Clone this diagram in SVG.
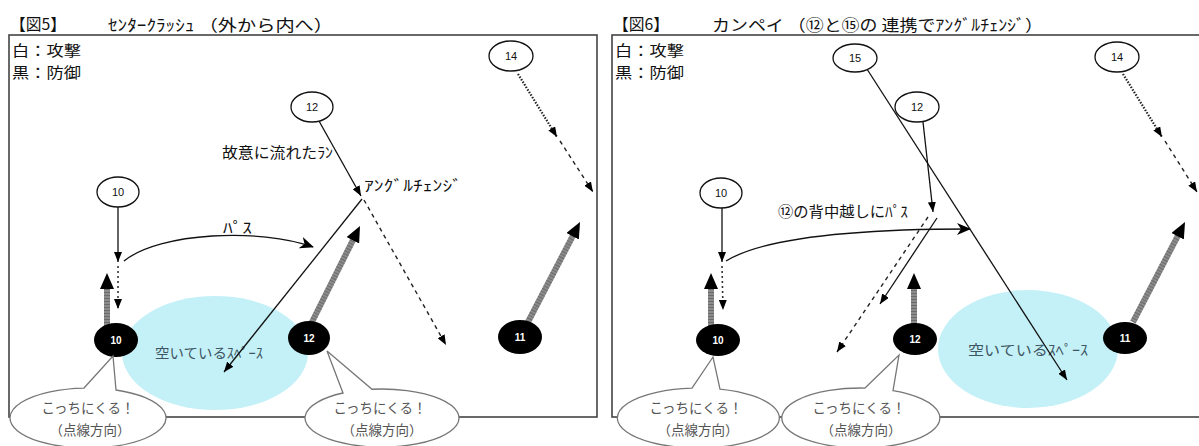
<svg xmlns="http://www.w3.org/2000/svg" width="1199" height="446" viewBox="0 0 1199 446">
<style>
text{font-family:"Noto Sans CJK JP","Noto Sans",sans-serif;fill:#111}
.num{font-family:"Liberation Sans",Arial,sans-serif;font-size:11px;text-anchor:middle}
.bnum{font-family:"Liberation Sans",Arial,sans-serif;font-size:10px;font-weight:bold;fill:#fff;text-anchor:middle}
.wp{fill:#fff;stroke:#111;stroke-width:1.3}
.bp{fill:#000}
.frame{fill:none;stroke:#444;stroke-width:1.6}
.line{fill:none;stroke:#111;stroke-width:1.3}
.dash{fill:none;stroke:#222;stroke-width:1.4;stroke-dasharray:4 4}
.dot{fill:none;stroke:#333;stroke-width:1.6;stroke-dasharray:2 3}
.hatch{fill:none;stroke:#222;stroke-width:2.2;stroke-dasharray:1.5 1.5}
.shaft{fill:none;stroke:#8c8c8c;stroke-width:6}
.shaftx{fill:none;stroke:#555;stroke-opacity:0.6;stroke-width:6;stroke-dasharray:1 2}
.space{fill:#c4f1f7}
.spacet{font-size:14px;fill:#3e5563}
.call{fill:#fff;stroke:#777;stroke-width:1.3}
.callt{font-size:13.5px;fill:#555;text-anchor:middle}
.title{font-size:16px}
.legend{font-size:15px}
.lab{font-size:15px}
</style>
<defs>
<marker id="a" markerUnits="userSpaceOnUse" markerWidth="10" markerHeight="8" refX="10" refY="4" orient="auto"><path d="M0,0 L10,4 L0,8 Z" fill="#000"/></marker>
<marker id="s" markerUnits="userSpaceOnUse" markerWidth="14" markerHeight="12" refX="13" refY="6" orient="auto"><path d="M0,0 L14,6 L0,12 L4,6 Z" fill="#000"/></marker>
<marker id="b" markerUnits="userSpaceOnUse" markerWidth="17" markerHeight="14" refX="1" refY="7" orient="auto"><path d="M0,0 L16,7 L0,14 Z" fill="#000"/></marker>
</defs>

<!-- frames -->
<g id="frames">
<rect class="frame" x="9" y="35" width="588" height="382"/>
<rect class="frame" x="612" y="35" width="620" height="382"/>
</g>

<!-- titles -->
<g id="titles">
<text class="title" x="10" y="30" textLength="56" lengthAdjust="spacingAndGlyphs">【図5】</text>
<text class="title" x="108" y="31" textLength="225" lengthAdjust="spacingAndGlyphs">ｾﾝﾀｰｸﾗｯｼｭ （外から内へ）</text>
<text class="title" x="613" y="30" textLength="56" lengthAdjust="spacingAndGlyphs">【図6】</text>
<text class="title" x="712" y="31" textLength="331" lengthAdjust="spacingAndGlyphs">カンペイ （⑫と⑮の 連携でｱﾝｸﾞﾙﾁｪﾝｼﾞ）</text>
<text class="legend" x="12" y="56" textLength="69" lengthAdjust="spacingAndGlyphs">白：攻撃</text>
<text class="legend" x="12" y="78" textLength="69" lengthAdjust="spacingAndGlyphs">黒：防御</text>
<text class="legend" x="615" y="56" textLength="69" lengthAdjust="spacingAndGlyphs">白：攻撃</text>
<text class="legend" x="615" y="78" textLength="69" lengthAdjust="spacingAndGlyphs">黒：防御</text>
</g>

<!-- open spaces -->
<g id="space5">
<ellipse class="space" cx="215" cy="353" rx="93" ry="57"/>
<text class="spacet" x="155" y="358" textLength="108" lengthAdjust="spacingAndGlyphs">空いているｽﾍﾟｰｽ</text>
</g>
<g id="space6">
<ellipse class="space" cx="1028" cy="349" rx="90" ry="59"/>
<text class="spacet" x="968" y="355" textLength="120" lengthAdjust="spacingAndGlyphs">空いているｽﾍﾟｰｽ</text>
</g>

<!-- connectors -->
<g id="connectors">
<!-- fig5 -->
<line class="line" x1="118" y1="207" x2="118" y2="262" marker-end="url(#a)"/>
<line class="dot" x1="118" y1="266" x2="118" y2="309" marker-end="url(#a)"/>
<path class="line" d="M124,261 C160,232 260,228 313,247" marker-end="url(#s)"/>
<line class="line" x1="319" y1="121" x2="361" y2="196" marker-end="url(#a)"/>
<line class="dash" x1="364" y1="200" x2="446" y2="345" marker-end="url(#a)"/>
<line class="line" x1="362" y1="199" x2="224" y2="372" marker-end="url(#a)"/>
<line class="hatch" x1="518" y1="74" x2="557" y2="137" marker-end="url(#a)"/>
<line class="dash" x1="560" y1="141" x2="593" y2="192" marker-end="url(#a)"/>
<line class="shaft" x1="107" y1="326" x2="107" y2="288"/>
<line class="shaftx" x1="107" y1="326" x2="107" y2="288" marker-end="url(#b)"/>
<line class="shaft" x1="312" y1="322" x2="353.3" y2="239.4"/>
<line class="shaftx" x1="312" y1="322" x2="353.3" y2="239.4" marker-end="url(#b)"/>
<line class="shaft" x1="528" y1="322" x2="573.1" y2="235.3"/>
<line class="shaftx" x1="528" y1="322" x2="573.1" y2="235.3" marker-end="url(#b)"/>
<!-- fig6 -->
<line class="line" x1="722" y1="208" x2="722" y2="262" marker-end="url(#a)"/>
<line class="dot" x1="722" y1="266" x2="723" y2="310" marker-end="url(#a)"/>
<path class="line" d="M726,261 C765,237 860,229 970,229" marker-end="url(#s)"/>
<line class="line" x1="865" y1="66" x2="1067" y2="380" marker-end="url(#a)"/>
<line class="line" x1="923" y1="122" x2="933" y2="212" marker-end="url(#a)"/>
<line class="line" x1="937" y1="218" x2="880" y2="304" marker-end="url(#a)"/>
<line class="dash" x1="928" y1="217" x2="837" y2="352" marker-end="url(#a)"/>
<line class="hatch" x1="1123" y1="74" x2="1162" y2="137" marker-end="url(#a)"/>
<line class="dash" x1="1165" y1="141" x2="1197" y2="192" marker-end="url(#a)"/>
<line class="shaft" x1="711" y1="326" x2="711" y2="288"/>
<line class="shaftx" x1="711" y1="326" x2="711" y2="288" marker-end="url(#b)"/>
<line class="shaft" x1="914" y1="324" x2="914" y2="288"/>
<line class="shaftx" x1="914" y1="324" x2="914" y2="288" marker-end="url(#b)"/>
<line class="shaft" x1="1133" y1="322" x2="1178.1" y2="235.3"/>
<line class="shaftx" x1="1133" y1="322" x2="1178.1" y2="235.3" marker-end="url(#b)"/>
</g>

<!-- connector labels -->
<g id="labels">
<text class="lab" x="222" y="158" textLength="111" lengthAdjust="spacingAndGlyphs">故意に流れたﾗﾝ</text>
<text class="lab" x="364" y="191" textLength="98" lengthAdjust="spacingAndGlyphs">ｱﾝｸﾞﾙﾁｪﾝｼﾞ</text>
<text class="lab" x="223" y="233" textLength="29" lengthAdjust="spacingAndGlyphs">ﾊﾟｽ</text>
<text class="lab" x="778" y="217" textLength="130" lengthAdjust="spacingAndGlyphs">⑫の背中越しにﾊﾟｽ</text>
</g>

<!-- fig5 attackers -->
<g id="f5-w12"><ellipse class="wp" cx="312" cy="107" rx="21" ry="15"/><text class="num" x="312" y="111">12</text></g>
<g id="f5-w14"><ellipse class="wp" cx="511" cy="56" rx="22" ry="15"/><text class="num" x="511" y="60">14</text></g>
<g id="f5-w10"><ellipse class="wp" cx="118" cy="192" rx="21" ry="15"/><text class="num" x="118" y="196">10</text></g>
<!-- fig5 defenders -->
<g id="f5-b10"><ellipse class="bp" cx="116" cy="340" rx="22" ry="17"/><text class="bnum" x="116" y="344">10</text></g>
<g id="f5-b12"><ellipse class="bp" cx="309" cy="338" rx="21" ry="17"/><text class="bnum" x="309" y="342">12</text></g>
<g id="f5-b11"><ellipse class="bp" cx="520" cy="337" rx="22" ry="17"/><text class="bnum" x="520" y="341">11</text></g>

<!-- fig6 attackers -->
<g id="f6-w15"><ellipse class="wp" cx="855" cy="58" rx="22" ry="14"/><text class="num" x="855" y="62">15</text></g>
<g id="f6-w12"><ellipse class="wp" cx="917" cy="107" rx="22" ry="15"/><text class="num" x="917" y="111">12</text></g>
<g id="f6-w14"><ellipse class="wp" cx="1117" cy="57" rx="22" ry="15"/><text class="num" x="1117" y="61">14</text></g>
<g id="f6-w10"><ellipse class="wp" cx="721" cy="193" rx="21" ry="15"/><text class="num" x="721" y="197">10</text></g>
<!-- fig6 defenders -->
<g id="f6-b10"><ellipse class="bp" cx="718" cy="340" rx="22" ry="16"/><text class="bnum" x="718" y="344">10</text></g>
<g id="f6-b12"><ellipse class="bp" cx="915" cy="339" rx="22" ry="16"/><text class="bnum" x="915" y="343">12</text></g>
<g id="f6-b11"><ellipse class="bp" cx="1125" cy="338" rx="22" ry="16"/><text class="bnum" x="1125" y="342">11</text></g>

<!-- callouts -->
<g id="f5-call10">
<path class="call" d="M84,388.04 L113,356 L116,390 A78,30 0 1 1 84,388.04 Z"/>
<text class="callt" x="88" y="413">こっちにくる！</text>
<text class="callt" x="90" y="435">（点線方向）</text>
</g>
<g id="f5-call12">
<path class="call" d="M343,393 L327,351 L372,389.25 A77,29 0 1 1 343,393 Z"/>
<text class="callt" x="380" y="413">こっちにくる！</text>
<text class="callt" x="382" y="435">（点線方向）</text>
</g>
<g id="f6-call10">
<path class="call" d="M692,388.1 L713,357 L720,389.1 A81,30 0 1 1 692,388.1 Z"/>
<text class="callt" x="696" y="413">こっちにくる！</text>
<text class="callt" x="698" y="435">（点線方向）</text>
</g>
<g id="f6-call12">
<path class="call" d="M865,388.04 L899,355 L893,390.6 A79,30 0 1 1 865,388.04 Z"/>
<text class="callt" x="859" y="413">こっちにくる！</text>
<text class="callt" x="861" y="435">（点線方向）</text>
</g>
</svg>
